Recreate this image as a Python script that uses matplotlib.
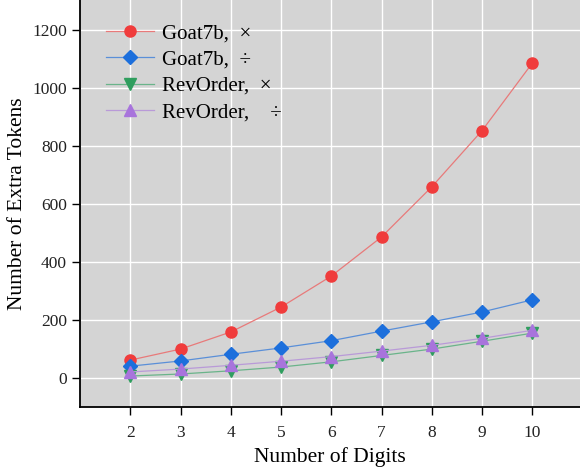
import matplotlib
matplotlib.use("Agg")
import matplotlib.pyplot as plt

digits = [2, 3, 4, 5, 6, 7, 8, 9, 10]
goat_mul = [62, 100, 159, 245, 352, 487, 660, 854, 1087]
goat_div = [41, 59, 82, 104, 129, 162, 194, 228, 270]
rev_mul = [7, 14, 25, 38, 56, 78, 100, 127, 155]
rev_div = [21, 31, 44, 58, 74, 93, 113, 137, 165]
labels = ["Goat7b,  \u00d7", "Goat7b,  \u00f7", "RevOrder,  \u00d7", "RevOrder,    \u00f7"]

plt.rcParams['font.family'] = ['Liberation Serif', 'DejaVu Serif']

fig = plt.figure(figsize=(5.8, 4.7), dpi=100)
ax = fig.add_axes([0.138, 0.134, 0.862, 0.866])
ax.set_facecolor('#d4d4d4')

series = [
    (goat_mul, '#f03c3c', '#e87a7a', 'o', 8),
    (goat_div, '#1c6fdc', '#5a8fd8', 'D', 7),
    (rev_mul, '#2f9e5e', '#6ab48a', 'v', 8),
    (rev_div, '#a874dc', '#b99ad8', '^', 8),
]
for (vals, mc, lc, mk, ms), lab in zip(series, labels):
    ax.plot(digits, vals, color=lc, linewidth=0.9, marker=mk, markersize=ms,
            markerfacecolor=mc, markeredgecolor=mc, label=lab)

ax.set_xlim(1.0, 10.95)
ax.set_ylim(-100, 1305)
ax.set_xticks(digits)
ax.set_yticks([0, 200, 400, 600, 800, 1000, 1200])
ax.grid(True, color='white', linewidth=1.0)
ax.set_axisbelow(True)
for s in ['top', 'right']:
    ax.spines[s].set_visible(False)
for s in ['left', 'bottom']:
    ax.spines[s].set_color('black')
    ax.spines[s].set_linewidth(1.3)
ax.tick_params(axis='both', direction='out', length=6, width=1, labelsize=12.5,
               colors='black', labelcolor='#222222')
ax.tick_params(axis='x', pad=7)
ax.set_xlabel('Number of Digits', fontsize=15.5, labelpad=4)
ax.set_ylabel('Number of Extra Tokens', fontsize=15.5, labelpad=4)

leg = ax.legend(loc='upper left', fontsize=15, frameon=False, handlelength=2.3,
                handletextpad=0.4, labelspacing=0.32, borderaxespad=0.0,
                bbox_to_anchor=(0.035, 0.962))

fig.savefig('out.png', dpi=100)
